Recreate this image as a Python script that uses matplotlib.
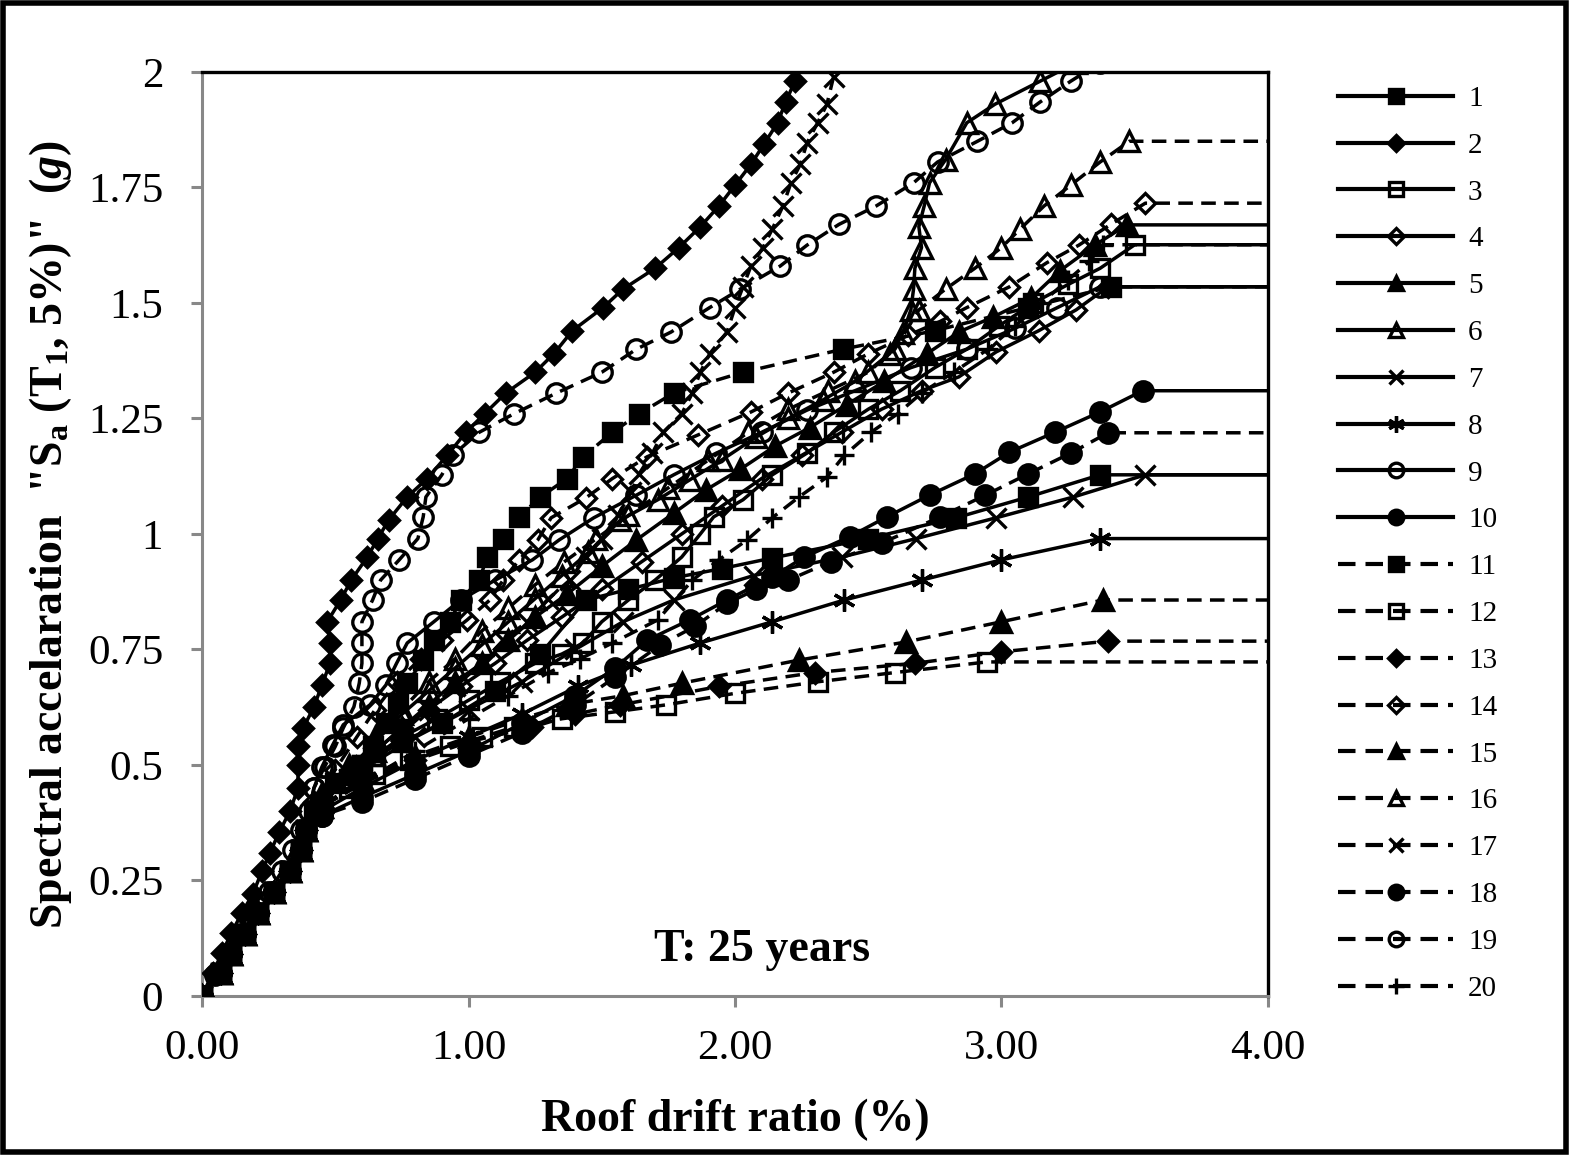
import matplotlib
matplotlib.use("Agg")
import matplotlib.pyplot as plt
from matplotlib.patches import Rectangle

plt.rcParams["font.family"] = ["Liberation Serif", "DejaVu Serif"]
plt.rcParams["mathtext.fontset"] = "custom"
plt.rcParams["mathtext.rm"] = "Liberation Serif:bold"
plt.rcParams["mathtext.it"] = "Liberation Serif:italic:bold"
plt.rcParams["mathtext.bf"] = "Liberation Serif:bold"

# ---- data: roof drift ratio (%) vs Sa(T1,5%) (g), one IDA curve per record ----
base_x = [0, 0.07, 0.11, 0.16, 0.21, 0.27, 0.33, 0.37, 0.39]
base_y = [0, 0.05, 0.09, 0.135, 0.18, 0.225, 0.27, 0.315, 0.36]

x1 = base_x + [0.45, 0.6, 0.75, 0.9, 1.1, 1.27, 1.44, 1.6, 1.77, 1.95, 2.14, 2.5, 2.83, 3.1, 3.37, 4.5]
y1 = base_y + [0.42, 0.5, 0.55, 0.59, 0.66, 0.74, 0.857, 0.88, 0.905, 0.925, 0.948, 0.99, 1.035, 1.08, 1.128, 1.128]

x2 = [0, 0.04, 0.075, 0.11, 0.15, 0.19, 0.225, 0.255, 0.29, 0.33, 0.36, 0.36, 0.36, 0.38, 0.42, 0.45,
      0.48, 0.48, 0.47, 0.52, 0.56, 0.62, 0.66, 0.70, 0.77, 0.845, 0.92, 0.99, 1.06, 1.14, 1.25, 1.32,
      1.39, 1.505, 1.58, 1.70, 1.79, 1.87, 1.94, 2.0, 2.06, 2.11, 2.16, 2.19, 2.225, 2.26]
y2 = [0, 0.05, 0.093, 0.136, 0.18, 0.22, 0.27, 0.31, 0.355, 0.40, 0.45, 0.50, 0.54, 0.58, 0.626, 0.673,
      0.72, 0.764, 0.81, 0.857, 0.90, 0.95, 0.99, 1.03, 1.08, 1.12, 1.17, 1.22, 1.26, 1.305, 1.35, 1.39,
      1.44, 1.49, 1.53, 1.575, 1.62, 1.665, 1.71, 1.755, 1.80, 1.845, 1.89, 1.935, 1.98, 2.03]

x3 = base_x + [0.45, 0.55, 0.65, 0.75, 0.88, 1.0, 1.12, 1.25, 1.35, 1.43, 1.5, 1.6, 1.7, 1.8, 1.87, 1.92,
               2.03, 2.14, 2.27, 2.37, 2.5, 2.62, 2.75, 2.87, 2.99, 3.12, 3.25, 3.37, 3.5, 4.5]
y3 = base_y + [0.42, 0.47, 0.52, 0.56, 0.6, 0.64, 0.68, 0.72, 0.74, 0.764, 0.81, 0.857, 0.9, 0.95, 1.0, 1.037,
               1.074, 1.128, 1.175, 1.22, 1.27, 1.31, 1.36, 1.4, 1.45, 1.5, 1.54, 1.575, 1.626, 1.626]

x4 = base_x + [0.45, 0.55, 0.65, 0.75, 0.85, 0.97, 1.1, 1.22, 1.35, 1.5, 1.65, 1.8, 1.95, 2.1, 2.25, 2.4,
               2.55, 2.7, 2.84, 2.98, 3.14, 3.28, 3.4, 4.5]
y4 = base_y + [0.42, 0.48, 0.53, 0.58, 0.62, 0.67, 0.72, 0.77, 0.82, 0.88, 0.94, 1.0, 1.06, 1.12, 1.17, 1.22,
               1.27, 1.31, 1.34, 1.394, 1.44, 1.485, 1.535, 1.535]

x5 = base_x + [0.45, 0.55, 0.65, 0.75, 0.85, 0.95, 1.05, 1.15, 1.25, 1.37, 1.5, 1.63, 1.77, 1.89, 2.02, 2.15,
               2.28, 2.42, 2.56, 2.72, 2.84, 2.97, 3.11, 3.22, 3.35, 3.47, 4.5]
y5 = base_y + [0.42, 0.48, 0.53, 0.58, 0.63, 0.68, 0.72, 0.77, 0.82, 0.87, 0.93, 0.987, 1.045, 1.095, 1.14, 1.19,
               1.23, 1.28, 1.33, 1.39, 1.437, 1.47, 1.51, 1.57, 1.625, 1.669, 1.669]

x6 = base_x + [0.45, 0.55, 0.65, 0.75, 0.85, 0.95, 1.05, 1.15, 1.25, 1.35, 1.45, 1.57, 1.71, 1.83, 1.95, 2.08,
               2.2, 2.33, 2.45, 2.58, 2.63, 2.66, 2.67, 2.675, 2.7, 2.69, 2.71, 2.73, 2.79, 2.87, 2.975, 3.145, 3.28]
y6 = base_y + [0.43, 0.49, 0.55, 0.61, 0.66, 0.71, 0.76, 0.81, 0.86, 0.91, 0.96, 1.03, 1.074, 1.117, 1.16, 1.21,
               1.25, 1.29, 1.33, 1.39, 1.435, 1.485, 1.53, 1.575, 1.62, 1.665, 1.71, 1.76, 1.81, 1.89, 1.93, 1.98, 2.02]

x7 = base_x + [0.45, 0.6, 0.8, 1.0, 1.2, 1.4, 1.58, 1.77, 2.07, 2.4, 2.68, 2.98, 3.27, 3.54, 4.5]
y7 = base_y + [0.42, 0.49, 0.56, 0.62, 0.68, 0.75, 0.81, 0.857, 0.91, 0.95, 0.99, 1.035, 1.08, 1.128, 1.128]

x8 = base_x + [0.45, 0.6, 0.8, 1.0, 1.2, 1.41, 1.61, 1.87, 2.14, 2.41, 2.7, 3.0, 3.37, 4.5]
y8 = base_y + [0.4, 0.45, 0.51, 0.56, 0.61, 0.67, 0.716, 0.764, 0.81, 0.857, 0.9, 0.944, 0.99, 0.99]

x9 = base_x + [0.42, 0.45, 0.49, 0.53, 0.63, 0.69, 0.73, 0.77, 0.87, 0.97, 1.1, 1.24, 1.34, 1.47, 1.63, 1.77,
               1.93, 2.1, 2.27, 2.45, 2.66, 2.87, 3.05, 3.21, 3.37, 4.5]
y9 = base_y + [0.45, 0.496, 0.543, 0.587, 0.63, 0.673, 0.72, 0.764, 0.81, 0.857, 0.9, 0.944, 0.987, 1.035, 1.084, 1.128,
               1.175, 1.22, 1.268, 1.31, 1.36, 1.4, 1.445, 1.49, 1.535, 1.535]

x10 = base_x + [0.45, 0.6, 0.8, 1.0, 1.2, 1.4, 1.55, 1.67, 1.83, 1.97, 2.14, 2.26, 2.43, 2.57, 2.73, 2.9,
                3.03, 3.2, 3.37, 3.53, 4.5]
y10 = base_y + [0.39, 0.43, 0.48, 0.53, 0.59, 0.65, 0.71, 0.77, 0.814, 0.857, 0.907, 0.95, 0.994, 1.037, 1.084, 1.13,
                1.177, 1.22, 1.264, 1.31, 1.31]

x11 = base_x + [0.42, 0.5, 0.6, 0.64, 0.69, 0.735, 0.77, 0.83, 0.87, 0.93, 0.97, 1.04, 1.07, 1.13, 1.19, 1.27,
                1.37, 1.43, 1.54, 1.64, 1.77, 2.03, 2.405, 2.75, 3.1, 3.41, 4.5]
y11 = base_y + [0.4, 0.46, 0.5, 0.54, 0.59, 0.634, 0.677, 0.727, 0.77, 0.81, 0.857, 0.9, 0.95, 0.99, 1.037, 1.08,
                1.12, 1.167, 1.22, 1.26, 1.305, 1.35, 1.4, 1.44, 1.49, 1.535, 1.535]

x12 = base_x + [0.45, 0.55, 0.65, 0.78, 0.93, 1.05, 1.17, 1.35, 1.55, 1.74, 2.0, 2.31, 2.6, 2.945, 4.5]
y12 = base_y + [0.41, 0.45, 0.48, 0.51, 0.54, 0.56, 0.582, 0.6, 0.615, 0.63, 0.655, 0.68, 0.7, 0.723, 0.723]

x13 = base_x + [0.45, 0.6, 0.8, 1.0, 1.24, 1.4, 1.57, 1.94, 2.3, 2.675, 3.0, 3.4, 4.5]
y13 = base_y + [0.41, 0.46, 0.51, 0.55, 0.582, 0.61, 0.63, 0.67, 0.7, 0.72, 0.745, 0.768, 0.768]

x14 = base_x + [0.42, 0.5, 0.58, 0.65, 0.73, 0.82, 0.9, 0.995, 1.08, 1.13, 1.19, 1.26, 1.31, 1.44, 1.54, 1.67,
                1.86, 2.06, 2.2, 2.37, 2.5, 2.65, 2.77, 2.87, 3.03, 3.17, 3.29, 3.41, 3.54, 4.5]
y14 = base_y + [0.42, 0.49, 0.56, 0.62, 0.68, 0.73, 0.77, 0.814, 0.857, 0.9, 0.944, 0.987, 1.035, 1.078, 1.12, 1.167,
                1.214, 1.264, 1.305, 1.35, 1.39, 1.43, 1.46, 1.49, 1.535, 1.587, 1.625, 1.67, 1.716, 1.716]

x15 = base_x + [0.45, 0.6, 0.8, 1.0, 1.2, 1.37, 1.58, 1.8, 2.24, 2.64, 3.0, 3.38, 4.5]
y15 = base_y + [0.41, 0.47, 0.52, 0.56, 0.6, 0.63, 0.65, 0.677, 0.727, 0.766, 0.81, 0.857, 0.857]

x16 = base_x + [0.45, 0.55, 0.65, 0.75, 0.85, 0.95, 1.05, 1.15, 1.25, 1.36, 1.48, 1.6, 1.75, 1.9, 2.05, 2.2,
                2.35, 2.5, 2.6, 2.69, 2.79, 2.9, 3.0, 3.07, 3.16, 3.26, 3.37, 3.48, 4.5]
y16 = base_y + [0.44, 0.5, 0.56, 0.62, 0.68, 0.73, 0.79, 0.84, 0.89, 0.94, 0.99, 1.04, 1.1, 1.16, 1.22, 1.27,
                1.31, 1.35, 1.4, 1.485, 1.53, 1.575, 1.62, 1.66, 1.71, 1.755, 1.805, 1.85, 1.85]

x17 = base_x + [0.45, 0.55, 0.65, 0.75, 0.85, 0.95, 1.05, 1.13, 1.22, 1.3, 1.38, 1.44, 1.5, 1.56, 1.61, 1.64,
                1.69, 1.73, 1.8, 1.84, 1.87, 1.905, 1.97, 2.0, 2.03, 2.06, 2.105, 2.14, 2.18, 2.21, 2.245,
                2.27, 2.31, 2.345, 2.37, 2.4]
y17 = base_y + [0.42, 0.47, 0.52, 0.57, 0.62, 0.67, 0.72, 0.77, 0.81, 0.86, 0.9, 0.95, 0.99, 1.04, 1.09, 1.13,
                1.175, 1.22, 1.26, 1.305, 1.35, 1.39, 1.437, 1.49, 1.535, 1.58, 1.62, 1.66, 1.71, 1.76, 1.8,
                1.846, 1.89, 1.93, 1.99, 2.03]

x18 = base_x + [0.45, 0.6, 0.8, 1.0, 1.2, 1.4, 1.55, 1.72, 1.85, 1.97, 2.08, 2.2, 2.36, 2.55, 2.77, 2.94,
                3.1, 3.26, 3.4, 4.5]
y18 = base_y + [0.39, 0.42, 0.47, 0.52, 0.57, 0.63, 0.69, 0.76, 0.8, 0.85, 0.88, 0.9, 0.94, 0.98, 1.037, 1.084,
                1.13, 1.175, 1.219, 1.219]

x19 = [0, 0.05, 0.1, 0.15, 0.2, 0.25, 0.3, 0.34, 0.37, 0.4, 0.42, 0.46, 0.5, 0.53, 0.57, 0.59, 0.6, 0.6,
       0.6, 0.64, 0.67, 0.74, 0.81, 0.83, 0.84, 0.9, 0.94, 1.04, 1.17, 1.33, 1.5, 1.63, 1.76, 1.905, 2.02,
       2.17, 2.27, 2.39, 2.53, 2.67, 2.76, 2.91, 3.04, 3.145, 3.26, 3.37]
y19 = [0, 0.045, 0.09, 0.135, 0.18, 0.225, 0.27, 0.315, 0.36, 0.4, 0.45, 0.496, 0.54, 0.58, 0.626, 0.677, 0.72, 0.764,
       0.81, 0.857, 0.9, 0.944, 0.99, 1.037, 1.08, 1.128, 1.17, 1.22, 1.26, 1.305, 1.35, 1.4, 1.437, 1.49, 1.53,
       1.58, 1.625, 1.67, 1.71, 1.76, 1.805, 1.85, 1.89, 1.935, 1.98, 2.02]

x20 = base_x + [0.45, 0.6, 0.8, 1.0, 1.15, 1.3, 1.42, 1.54, 1.71, 1.84, 1.94, 2.045, 2.14, 2.24, 2.345, 2.41,
                2.51, 2.61, 2.7, 2.82, 2.95, 3.05, 3.15, 3.25, 3.33, 3.38, 4.5]
y20 = base_y + [0.41, 0.46, 0.53, 0.6, 0.65, 0.7, 0.73, 0.764, 0.814, 0.9, 0.944, 0.987, 1.035, 1.08, 1.123, 1.17,
                1.22, 1.26, 1.305, 1.35, 1.4, 1.45, 1.5, 1.55, 1.59, 1.626, 1.626]

records = [str(i) for i in range(1, 21)]
xs = [x1, x2, x3, x4, x5, x6, x7, x8, x9, x10, x11, x12, x13, x14, x15, x16, x17, x18, x19, x20]
ys = [y1, y2, y3, y4, y5, y6, y7, y8, y9, y10, y11, y12, y13, y14, y15, y16, y17, y18, y19, y20]

# marker, filled?, size per record (records 11-20 dashed)
marks = [("s", True, 13), ("D", True, 10.5), ("s", False, 13), ("D", False, 10.5), ("^", True, 14),
         ("^", False, 14), ("x", False, 14), ((6, 2, 0), False, 16), ("o", False, 14), ("o", True, 14),
         ("s", True, 13), ("s", False, 13), ("D", True, 10.5), ("D", False, 10.5), ("^", True, 14),
         ("^", False, 14), ("x", False, 14), ("o", True, 14), ("o", False, 14), ("+", False, 15)]

fig = plt.figure(figsize=(15.71, 11.55), dpi=100)
ax = fig.add_axes([0.1286, 0.1377, 0.6785, 0.8000])

for i, (x, y) in enumerate(zip(xs, ys)):
    m, filled, ms = marks[i]
    ls = "-" if i < 10 else (0, (4.2, 2.4))
    ax.plot(x, y, color="black", lw=2.5, ls=ls, marker=m, ms=ms,
            mfc="black" if filled else "none", mec="black", mew=2.4,
            label=records[i], clip_on=True, zorder=3)

ax.set_xlim(0, 4)
ax.set_ylim(0, 2)
ax.set_xticks([0, 1, 2, 3, 4])
ax.set_xticklabels(["0.00", "1.00", "2.00", "3.00", "4.00"])
ax.set_yticks([0, 0.25, 0.5, 0.75, 1, 1.25, 1.5, 1.75, 2])
ax.set_yticklabels(["0", "0.25", "0.5", "0.75", "1", "1.25", "1.5", "1.75", "2"])
ax.tick_params(axis="both", labelsize=31, color="#888888", width=2.2, length=8, direction="out")
ax.tick_params(axis="y", pad=20)
ax.tick_params(axis="x", pad=16)
for s in ("left", "bottom"):
    ax.spines[s].set_color("#888888")
    ax.spines[s].set_linewidth(2.2)
for s in ("top", "right"):
    ax.spines[s].set_color("black")
    ax.spines[s].set_linewidth(2.4)

ax.set_xlabel("Roof drift ratio (%)", fontsize=33, fontweight="bold", labelpad=22)
ax.set_ylabel('Spectral accelaration  "S$_{\\mathrm{a}}$ (T$_{\\mathrm{1}}$, 5%)"  ($g$)',
              fontsize=33, fontweight="bold", labelpad=10)
ax.text(0.525, 0.05, "T: 25 years", transform=ax.transAxes, fontsize=33, fontweight="bold",
        ha="center", va="center")

leg = ax.legend(loc="upper left", bbox_to_anchor=(1.055, 0.998), frameon=False, fontsize=21,
                handlelength=3.95, labelspacing=0.7, handletextpad=0.5, borderaxespad=0)
for h in leg.legend_handles:
    h.set_markersize(h.get_markersize() * 0.75)
    h.set_linewidth(3)

fig.patches.append(Rectangle((0.002, 0.003), 0.995, 0.994, transform=fig.transFigure,
                             fill=False, lw=4, edgecolor="black"))
fig.savefig("out.png", dpi=100)
